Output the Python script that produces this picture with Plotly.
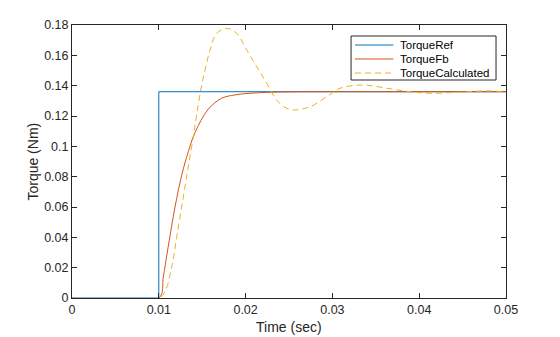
import plotly.graph_objects as go

# Reference torque: step at t = 0.01 s
t_ref = [0.0, 0.01, 0.01, 0.05]
torque_ref = [0.0, 0.0, 0.136, 0.136]

# Measured feedback torque
t_fb = [0.0, 0.01, 0.01052, 0.01102, 0.01187, 0.01264, 0.0134, 0.01417,
        0.0157, 0.01725, 0.01878, 0.0205, 0.0225, 0.025, 0.03, 0.04, 0.05]
torque_fb = [0.0, 0.0, 0.014, 0.0316, 0.060, 0.081, 0.0965, 0.109,
             0.1245, 0.1317, 0.1339, 0.1350, 0.1356, 0.1359, 0.136, 0.136, 0.136]

# Calculated torque estimate
t_calc = [0.0, 0.01, 0.01071, 0.01149, 0.01206, 0.01275, 0.0134, 0.01398,
          0.01437, 0.01494, 0.01532, 0.0159, 0.01667, 0.01782, 0.01897, 0.02013,
          0.02128, 0.02243, 0.02358, 0.0245, 0.0255, 0.02742, 0.02934,
          0.03088, 0.03356, 0.03625, 0.03894, 0.04124, 0.04432, 0.0478, 0.05]
torque_calc = [0.0, 0.0, 0.0042, 0.0206, 0.040, 0.064, 0.0866, 0.1064,
               0.121, 0.1404, 0.150, 0.1635, 0.1745, 0.1778, 0.1745, 0.1635,
               0.1525, 0.1416, 0.1305, 0.1258, 0.124, 0.1261, 0.1327,
               0.1383, 0.1404, 0.1383, 0.136, 0.135, 0.1356, 0.1365, 0.136]

series_names = ["TorqueRef", "TorqueFb", "TorqueCalculated"]
series_colors = ["#0072BD", "#D95319", "#EDB120"]
series_dash = ["solid", "solid", "6px,4px"]

x_ticks = [0, 0.01, 0.02, 0.03, 0.04, 0.05]
x_tick_text = ["0", "0.01", "0.02", "0.03", "0.04", "0.05"]
y_ticks = [0, 0.02, 0.04, 0.06, 0.08, 0.1, 0.12, 0.14, 0.16, 0.18]
y_tick_text = ["0", "0.02", "0.04", "0.06", "0.08", "0.1", "0.12", "0.14", "0.16", "0.18"]

FONT = "Liberation Sans, Arial, sans-serif"
AXIS_COLOR = "#262626"

fig = go.Figure()
traces = [(t_ref, torque_ref, "linear"), (t_fb, torque_fb, "spline"), (t_calc, torque_calc, "spline")]
for (tx, ty, shape), name, color, dash in zip(traces, series_names, series_colors, series_dash):
    fig.add_trace(go.Scatter(x=tx, y=ty, mode="lines", name=name, showlegend=False,
                             line=dict(color=color, width=1, dash=dash, shape=shape,
                                       smoothing=1.0 if shape == "spline" else None)))

# Compact boxed legend in the upper-right corner of the axes
box_x0, box_x1, box_y0, box_y1 = 0.643, 0.977, 0.7985, 0.9597
row_y = [0.9267, 0.8755, 0.8242]
sample_x0, sample_x1, label_x = 0.6521, 0.7404, 0.750
fig.add_shape(type="rect", xref="x domain", yref="y domain",
              x0=box_x0, x1=box_x1, y0=box_y0, y1=box_y1,
              line=dict(color=AXIS_COLOR, width=1), fillcolor="white", layer="above")
for ry, name, color, dash in zip(row_y, series_names, series_colors, series_dash):
    fig.add_shape(type="line", xref="x domain", yref="y domain",
                  x0=sample_x0, x1=sample_x1, y0=ry, y1=ry,
                  line=dict(color=color, width=1, dash=dash), layer="above")
    fig.add_annotation(xref="x domain", yref="y domain", x=label_x, y=ry,
                       text=name, showarrow=False, xanchor="left", yanchor="middle",
                       font=dict(family=FONT, size=11.5, color="#000000"))

# Axis titles
fig.add_annotation(xref="paper", yref="paper", x=0.5, y=-0.106, text="Time (sec)",
                   showarrow=False, xanchor="center", yanchor="middle",
                   font=dict(family=FONT, size=14, color=AXIS_COLOR))
fig.add_annotation(xref="paper", yref="paper", x=-0.092, y=0.5, text="Torque (Nm)",
                   showarrow=False, xanchor="center", yanchor="middle", textangle=-90,
                   font=dict(family=FONT, size=14, color=AXIS_COLOR))

axis_common = dict(
    showline=True, linecolor=AXIS_COLOR, linewidth=1, mirror="ticks",
    ticks="inside", ticklen=5, tickcolor=AXIS_COLOR, tickwidth=1,
    showgrid=False, zeroline=False, automargin=False,
    tickfont=dict(family=FONT, size=12.5, color=AXIS_COLOR),
)

fig.update_layout(
    width=560, height=337,
    margin=dict(l=72, r=54, t=25, b=39),
    paper_bgcolor="white", plot_bgcolor="white",
    font=dict(family=FONT, color=AXIS_COLOR),
    xaxis=dict(range=[0, 0.05], tickvals=x_ticks, ticktext=x_tick_text, **axis_common),
    yaxis=dict(range=[0, 0.18], tickvals=y_ticks, ticktext=y_tick_text, **axis_common),
    showlegend=False,
)

fig.write_html("out.html")
